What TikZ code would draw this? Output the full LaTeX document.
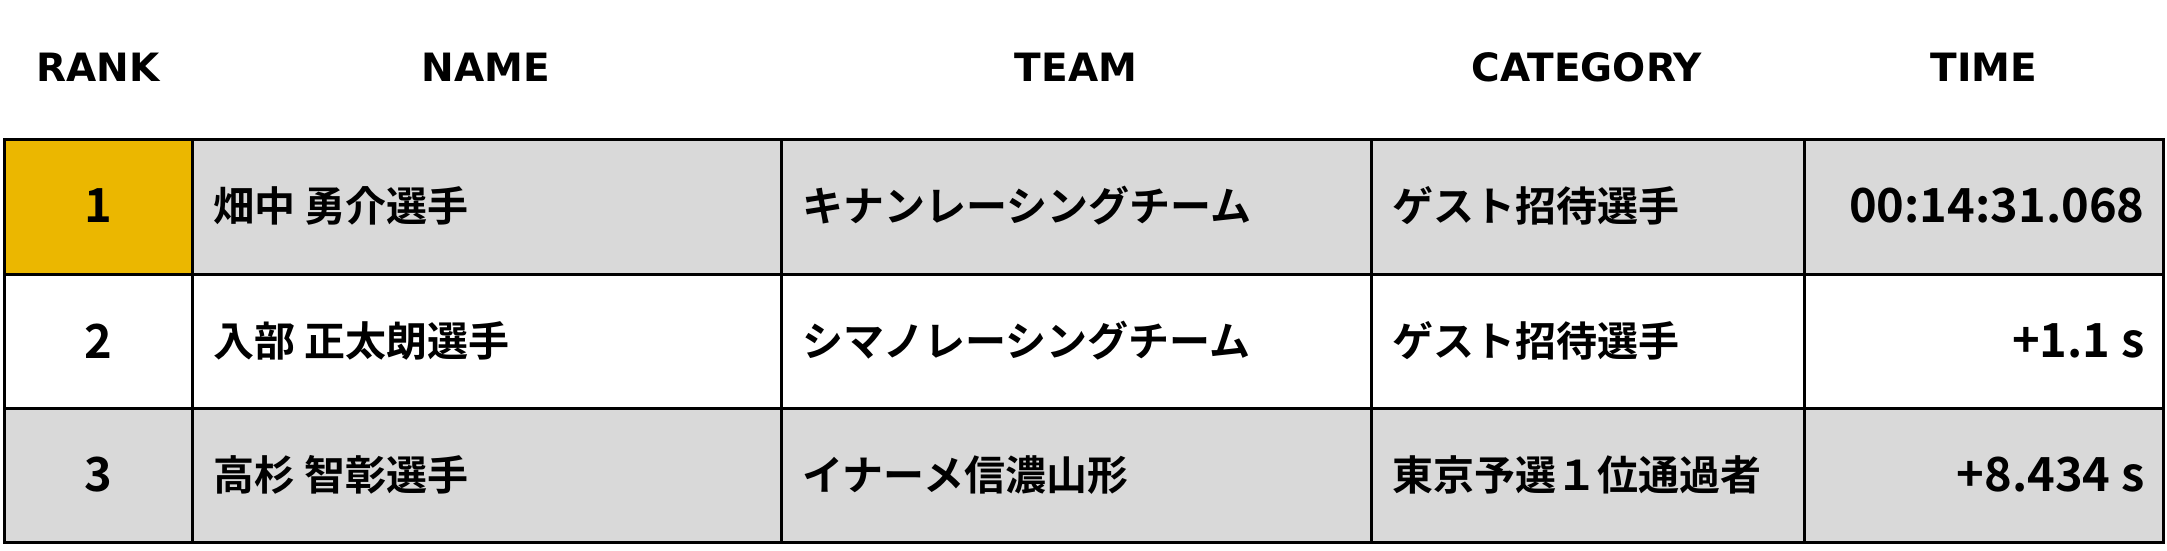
\documentclass[tikz,border=0pt]{standalone}
\usepackage{fontspec}
\setmainfont{Noto Sans CJK JP}[BoldFont={* Bold}]
\newfontfamily\hdfont{DejaVu Sans}[BoldFont={* Bold}]
\definecolor{gold}{HTML}{EBB700}
\definecolor{cellgray}{HTML}{D9D9D9}
\begin{document}
\begin{tikzpicture}[x=1pt,y=-1pt,
  hd/.style={font=\hdfont\bfseries\fontsize{39}{44}\selectfont},
  bd/.style={font=\bfseries\fontsize{41}{46}\selectfont},
  tm/.style={font=\bfseries\fontsize{47}{50}\selectfont},
  grid/.style={line width=3pt,draw=black}]
\useasboundingbox (0,0) rectangle (2167,550);
% fills
\fill[cellgray] (4,139) rectangle (2163,274);
\fill[cellgray] (4,408) rectangle (2163,542);
\fill[gold] (4,139) rectangle (192,274);
% grid
\draw[grid] (4,139) rectangle (2163,542);
\foreach \y in {274,408} \draw[grid] (4,\y) -- (2163,\y);
\foreach \x in {192,781,1371,1804} \draw[grid] (\x,139) -- (\x,542);
% headers
\node[hd] (h1) at (98,67) {RANK};
\node[hd] (h2) at (486,67) {NAME};
\node[hd] (h3) at (1076,67) {TEAM};
\node[hd] (h4) at (1587,67) {CATEGORY};
\node[hd] (h5) at (1984,67) {TIME};
% rows
\foreach \r/\y/\n/\t/\c/\tm in {1/206/畑中 勇介選手/キナンレーシングチーム/ゲスト招待選手/00:14:31.068,
  2/341/入部 正太朗選手/シマノレーシングチーム/ゲスト招待選手/+1.1 s,
  3/475/高杉 智彰選手/イナーメ信濃山形/東京予選１位通過者/+8.434 s}{
  \node[tm] (r\r) at (98,\y) {\r};
  \node[bd,anchor=west] (n\r) at (210,\y) {\n};
  \node[bd,anchor=west] (t\r) at (799,\y) {\t};
  \node[bd,anchor=west] (c\r) at (1389,\y) {\c};
  \node[tm,anchor=east] (m\r) at (2148,\y) {\tm};
}
\end{tikzpicture}
\end{document}
